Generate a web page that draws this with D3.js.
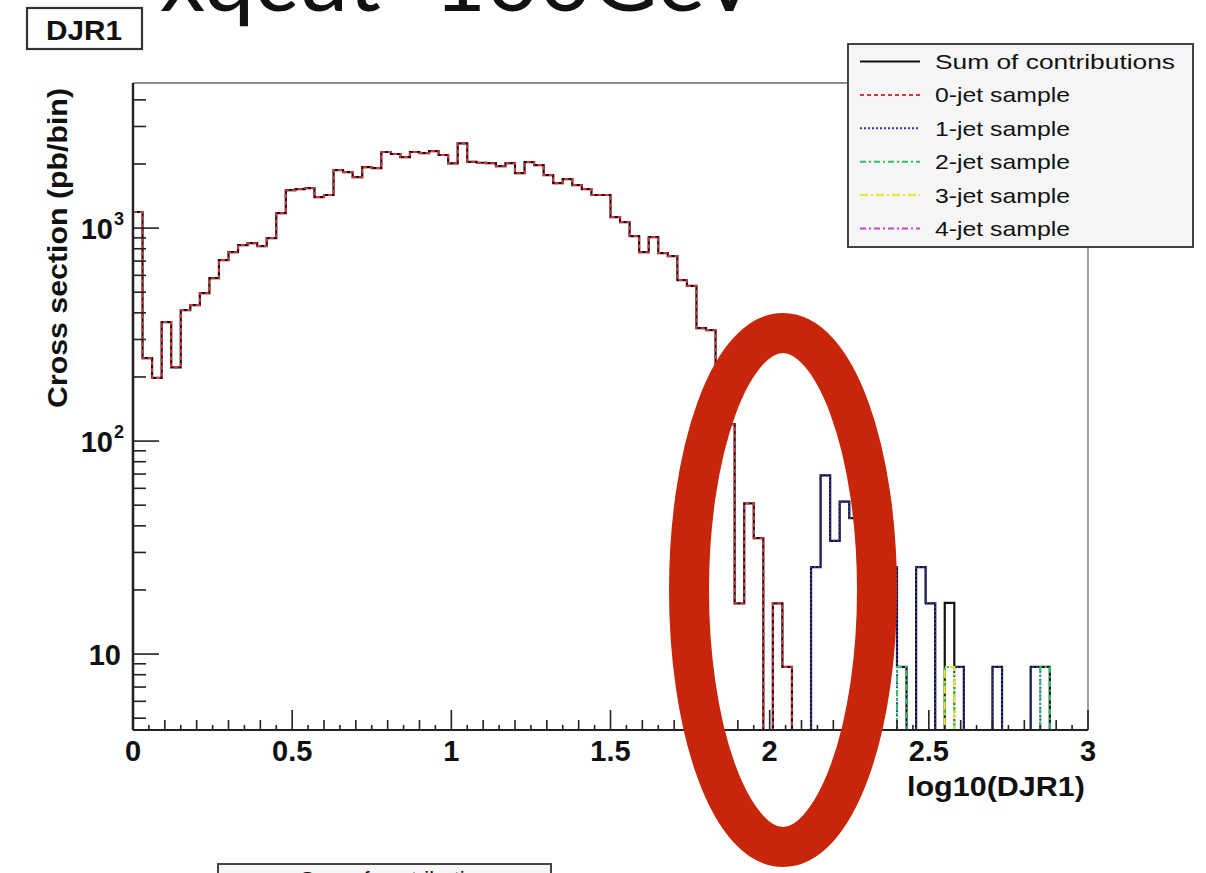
<!DOCTYPE html>
<html>
<head>
<meta charset="utf-8">
<script src="https://cdn.jsdelivr.net/npm/d3@7"></script>
<style>
  html, body { margin: 0; padding: 0; background: #ffffff; overflow: hidden; }
  svg { display: block; }
</style>
</head>
<body>
<svg id="chart" width="1206" height="873"></svg>
<script>
// ---------------- DATA ----------------
const nBins = 100;
const xRange = [0, 3];
const yRange = [4.4, 4800];

// 0-jet sample (bins 0..68, rest empty)
const jet0 = [1190, 245, 198, 362, 222, 412, 435, 495, 582, 708,
              771, 832, 850, 823, 898, 1175, 1507, 1524, 1541, 1399,
              1430, 1872, 1832, 1735, 1933, 1913, 2276, 2228, 2155, 2276,
              2250, 2300, 2204, 2014, 2500, 2047, 2027, 2018, 1954, 2018,
              1811, 2041, 1976, 1774, 1626, 1698, 1592, 1524, 1430, 1430,
              1126, 1067, 917, 771, 907, 763, 739, 570, 535, 339,
              332, 180, 120, 17.3, 51, 35, 0, 17.3, 8.7];
// 1-jet sample: [bin index, value]
const jet1 = [[71, 25.6], [72, 69], [73, 34], [74, 52], [75, 43.5], [76, 25.6],
              [77, 25.6], [78, 25.6], [79, 25.6], [82, 25.6], [83, 17.3],
              [86, 8.7], [90, 8.7], [94, 8.7]];
const jet2 = [[80, 8.7], [85, 8.7], [95, 8.7]];
const jet3 = [[85, 8.7]];
const jet4 = [];

const legendLabels = ["Sum of contributions", "0-jet sample", "1-jet sample",
                      "2-jet sample", "3-jet sample", "4-jet sample"];
const xTickValues = [0, 0.5, 1, 1.5, 2, 2.5, 3];
const xTickLabels = ["0", "0.5", "1", "1.5", "2", "2.5", "3"];
const yTickValues = [10, 100, 1000];
const yTickBase = ["10", "10", "10"];
const yTickExp = ["", "2", "3"];
const titleText = "xqcut=100GeV";
const boxTitle = "DJR1";
const xTitle = "log10(DJR1)";
const yTitle = "Cross section (pb/bin)";

// ---------------- BUILD ----------------
function fill(sparse) {
  const a = new Array(nBins).fill(0);
  sparse.forEach(([i, v]) => a[i] = v);
  return a;
}
const s0 = new Array(nBins).fill(0).map((_, i) => jet0[i] || 0);
const s1 = fill(jet1), s2 = fill(jet2), s3 = fill(jet3), s4 = fill(jet4);
const sum = s0.map((v, i) => v + s1[i] + s2[i] + s3[i] + s4[i]);

const series = [
  { name: legendLabels[0], values: sum, color: "#111111", dash: null, width: 2.2 },
  { name: legendLabels[1], values: s0, color: "#e0303a", dash: "4,3", width: 2 },
  { name: legendLabels[2], values: s1, color: "#3535b5", dash: "2,2", width: 2 },
  { name: legendLabels[3], values: s2, color: "#30c060", dash: "6,3,2,3", width: 2 },
  { name: legendLabels[4], values: s3, color: "#e6e632", dash: "8,3,2,3", width: 2 },
  { name: legendLabels[5], values: s4, color: "#d040d0", dash: "6,3,2,3", width: 2 },
];

const svg = d3.select("#chart");
const L = 133, R = 1088, T = 83, B = 730;
const x = d3.scaleLinear().domain(xRange).range([L, R]);
const y = d3.scaleLog().domain(yRange).range([B, T]);
const yv = v => y(Math.max(v, yRange[0]));
const binW = (xRange[1] - xRange[0]) / nBins;

// title (partially cut at top)
svg.append("text")
  .attr("x", 160).attr("y", 11)
  .attr("font-family", "Lato, 'Open Sans', sans-serif")
  .attr("font-size", 88)
  .attr("fill", "#111")
  .attr("textLength", 600).attr("lengthAdjust", "spacingAndGlyphs")
  .text(titleText);

// DJR1 box
svg.append("rect").attr("x", 27).attr("y", 8).attr("width", 115).attr("height", 41)
  .attr("fill", "#fff").attr("stroke", "#333").attr("stroke-width", 2.2);
svg.append("text").attr("x", 84).attr("y", 40).attr("text-anchor", "middle")
  .attr("font-family", "'Liberation Sans', Arial, sans-serif").attr("font-weight", "bold")
  .attr("font-size", 28).attr("fill", "#111")
  .attr("textLength", 76).attr("lengthAdjust", "spacingAndGlyphs")
  .text(boxTitle);

// frame
svg.append("line").attr("x1", L).attr("x2", R).attr("y1", T).attr("y2", T)
  .attr("stroke", "#666").attr("stroke-width", 1.6);
svg.append("line").attr("x1", R).attr("x2", R).attr("y1", T).attr("y2", B)
  .attr("stroke", "#888").attr("stroke-width", 1.6);

// histograms
const clip = svg.append("clipPath").attr("id", "plotclip")
  .append("rect").attr("x", L - 2).attr("y", T).attr("width", R - L + 4).attr("height", B - T + 2);

const g = svg.append("g").attr("clip-path", "url(#plotclip)");
series.forEach(s => {
  const pts = [[xRange[0], 0]];
  s.values.forEach((v, i) => pts.push([xRange[0] + i * binW, v]));
  pts.push([xRange[1], s.values[nBins - 1]]);
  pts.push([xRange[1], 0]);
  const line = d3.line().x(d => x(d[0])).y(d => yv(d[1])).curve(d3.curveStepAfter);
  g.append("path").attr("d", line(pts))
    .attr("fill", "none").attr("stroke", s.color)
    .attr("stroke-width", s.width)
    .attr("stroke-dasharray", s.dash);
});

// axes
const axisColor = "#222";
svg.append("line").attr("x1", L).attr("x2", L).attr("y1", T).attr("y2", B)
  .attr("stroke", axisColor).attr("stroke-width", 2.4);
svg.append("line").attr("x1", L).attr("x2", R).attr("y1", B).attr("y2", B)
  .attr("stroke", axisColor).attr("stroke-width", 2.2);

// x ticks
const xt = svg.append("g");
for (let k = 0; k <= 60; k++) {
  const v = k * 0.05;
  const len = (k % 10 === 0) ? 20 : (k % 2 === 0 ? 10 : 5);
  xt.append("line").attr("x1", x(v)).attr("x2", x(v)).attr("y1", B).attr("y2", B - len)
    .attr("stroke", axisColor).attr("stroke-width", 1.6);
}
xTickValues.forEach((v, i) => {
  xt.append("text").attr("x", x(v)).attr("y", 761).attr("text-anchor", "middle")
    .attr("font-family", "'Liberation Sans', Arial, sans-serif").attr("font-weight", "bold")
    .attr("font-size", 29).attr("fill", "#111").text(xTickLabels[i]);
});

// y ticks
const yt = svg.append("g");
const minor = [];
[1, 10, 100, 1000].forEach(dec => {
  for (let m = 2; m <= 9; m++) minor.push(dec * m);
});
minor.filter(v => v >= yRange[0] && v <= yRange[1]).forEach(v => {
  yt.append("line").attr("x1", L).attr("x2", L + 13).attr("y1", y(v)).attr("y2", y(v))
    .attr("stroke", axisColor).attr("stroke-width", 1.6);
});
yTickValues.forEach((v, i) => {
  yt.append("line").attr("x1", L).attr("x2", L + 26).attr("y1", y(v)).attr("y2", y(v))
    .attr("stroke", axisColor).attr("stroke-width", 1.6);
  const hasExp = yTickExp[i] !== "";
  const t = yt.append("text").attr("x", hasExp ? 113 : 121).attr("y", y(v) + 11)
    .attr("text-anchor", "end")
    .attr("font-family", "'Liberation Sans', Arial, sans-serif").attr("font-weight", "bold")
    .attr("font-size", 29).attr("fill", "#111").text(yTickBase[i]);
  if (hasExp) {
    yt.append("text").attr("x", 114).attr("y", y(v) - 3)
      .attr("font-family", "'Liberation Sans', Arial, sans-serif").attr("font-weight", "bold")
      .attr("font-size", 18).attr("fill", "#111").text(yTickExp[i]);
  }
});

// axis titles
svg.append("text").attr("x", 1085).attr("y", 796).attr("text-anchor", "end")
  .attr("font-family", "'Liberation Sans', Arial, sans-serif").attr("font-weight", "bold")
  .attr("font-size", 27).attr("fill", "#111")
  .attr("textLength", 178).attr("lengthAdjust", "spacingAndGlyphs")
  .text(xTitle);
svg.append("text").attr("transform", "translate(67,248) rotate(-90)")
  .attr("text-anchor", "middle")
  .attr("font-family", "'Liberation Sans', Arial, sans-serif").attr("font-weight", "bold")
  .attr("font-size", 27).attr("fill", "#111")
  .attr("textLength", 320).attr("lengthAdjust", "spacingAndGlyphs")
  .text(yTitle);

// legend
const lg = svg.append("g");
lg.append("rect").attr("x", 848).attr("y", 44).attr("width", 345).attr("height", 203)
  .attr("fill", "#f6f6f6").attr("stroke", "#444").attr("stroke-width", 2);
const legLen = [240, 135, 135, 135, 135, 135];
series.forEach((s, i) => {
  const yy = 61.5 + i * 33.4;
  lg.append("line").attr("x1", 860).attr("x2", 920).attr("y1", yy).attr("y2", yy)
    .attr("stroke", s.color).attr("stroke-width", 2).attr("stroke-dasharray", s.dash);
  lg.append("text").attr("x", 935).attr("y", yy + 7.5)
    .attr("font-family", "'Liberation Sans', Arial, sans-serif")
    .attr("font-size", 21).attr("fill", "#111")
    .attr("textLength", legLen[i]).attr("lengthAdjust", "spacingAndGlyphs")
    .text(s.name);
});

// second legend box, cut at bottom of page
svg.append("rect").attr("x", 218).attr("y", 864).attr("width", 333).attr("height", 60)
  .attr("fill", "#f6f6f6").attr("stroke", "#444").attr("stroke-width", 2);
svg.append("text").attr("x", 300).attr("y", 886)
  .attr("font-family", "'Liberation Sans', Arial, sans-serif")
  .attr("font-size", 21).attr("fill", "#111")
  .attr("textLength", 200).attr("lengthAdjust", "spacingAndGlyphs")
  .text(legendLabels[0]);

// red annotation ellipse
svg.append("ellipse").attr("cx", 783).attr("cy", 590).attr("rx", 94).attr("ry", 257)
  .attr("fill", "none").attr("stroke", "#c8260a").attr("stroke-width", 40);
</script>
</body>
</html>
